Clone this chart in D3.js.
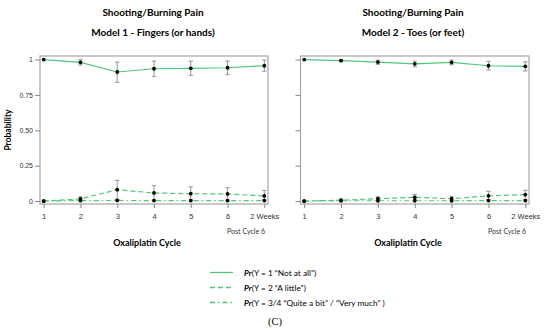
<!DOCTYPE html>
<html>
<head>
<meta charset="utf-8">
<script src="https://cdn.jsdelivr.net/npm/d3@7"></script>
<style>
  body { margin: 0; background: #fff; }
  svg { font-family: Lato, "Open Sans", sans-serif; }
  .tick text { fill: #333; }
</style>
</head>
<body>
<div class="chart"></div>
<script>
// categories and tick labels
const cycles = ['1', '2', '3', '4', '5', '6', '2 Weeks'];
const yTicks = [0, 0.25, 0.5, 0.75, 1];
const yTickLabels = ['0', '0.25', '0.50', '0.75', '1'];

// Model 1 - fingers
const m1Y1 = [1.0, 0.98, 0.912, 0.935, 0.938, 0.942, 0.956];
const m1Y1Lo = [1.0, 0.961, 0.839, 0.881, 0.888, 0.893, 0.917];
const m1Y1Hi = [1.0, 0.999, 0.982, 0.989, 0.989, 0.989, 0.996];
const m1Y2 = [0.0, 0.015, 0.08, 0.057, 0.052, 0.05, 0.036];
const m1Y2Lo = [0.0, 0.002, 0.015, 0.01, 0.006, 0.006, 0.003];
const m1Y2Hi = [0.0, 0.03, 0.146, 0.108, 0.1, 0.094, 0.075];
const m1Y3 = [0.0, 0.003, 0.004, 0.003, 0.003, 0.003, 0.003];
const m1Y3Lo = [0, 0, 0, 0, 0, 0, 0];
const m1Y3Hi = [0.0, 0.009, 0.012, 0.008, 0.008, 0.008, 0.008];

// Model 2 - toes
const m2Y1 = [1.0, 0.992, 0.982, 0.970, 0.980, 0.956, 0.952];
const m2Y1Lo = [1.0, 0.986, 0.966, 0.949, 0.963, 0.926, 0.919];
const m2Y1Hi = [1.0, 0.998, 0.996, 0.989, 0.996, 0.987, 0.984];
const m2Y2 = [0.0, 0.006, 0.016, 0.026, 0.016, 0.037, 0.045];
const m2Y2Lo = [0.0, 0.001, 0.004, 0.008, 0.004, 0.012, 0.016];
const m2Y2Hi = [0.0, 0.012, 0.03, 0.047, 0.033, 0.069, 0.076];
const m2Y3 = [0.0, 0.002, 0.002, 0.002, 0.002, 0.003, 0.003];
const m2Y3Lo = [0, 0, 0, 0, 0, 0, 0];
const m2Y3Hi = [0.0, 0.006, 0.008, 0.008, 0.008, 0.01, 0.01];

const legendLabels = ['(Y = 1 \u201cNot at all\u201d)', '(Y = 2 \u201cA little\u201d)',
                      '(Y = 3/4 \u201cQuite a bit\u201d / \u201cVery much\u201d )'];

const green = '#4fc87a';
const dashes = [null, '5,3', '5,3,1.5,3'];

const svg = d3.select('.chart').append('svg')
  .attr('width', 550).attr('height', 330);

function series(vals, lo, hi){
  return vals.map((v, i) => ({cat: cycles[i], value: v, lo: lo[i], hi: hi[i]}));
}

function panel(opts){
  const x = d3.scalePoint().domain(cycles).range([opts.left, opts.right]).padding(0.1);
  const y = d3.scaleLinear().domain([-0.021, 1.025]).range([204, 56]);
  const g = svg.append('g');

  g.append('text').attr('x', opts.titleX).attr('y', 16)
   .attr('text-anchor', 'middle').style('font-size', '10px').style('font-weight', 'bold')
   .text('Shooting/Burning Pain');
  g.append('text').attr('x', opts.titleX).attr('y', 36)
   .attr('text-anchor', 'middle').style('font-size', '10px').style('font-weight', 'bold')
   .text(opts.sub);

  g.append('rect').attr('x', opts.left).attr('y', 56)
   .attr('width', opts.right - opts.left).attr('height', 148)
   .style('fill', 'none').style('stroke', '#a6a6a6').style('stroke-width', 1.2);

  const yAxis = d3.axisLeft(y).tickValues(yTicks).tickSize(5).tickPadding(2)
    .tickFormat((d, i) => opts.labels ? yTickLabels[i] : '');
  g.append('g').attr('transform', `translate(${opts.left},0)`).call(yAxis)
   .call(a => a.select('.domain').remove())
   .call(a => a.selectAll('line').style('stroke', '#888'))
   .call(a => a.selectAll('text').style('font-size', '7px'));

  const xAxis = d3.axisBottom(x).tickSize(4).tickPadding(6);
  g.append('g').attr('transform', 'translate(0,204)').call(xAxis)
   .call(a => a.select('.domain').remove())
   .call(a => a.selectAll('line').style('stroke', '#888'))
   .call(a => a.selectAll('text').style('font-size', '7.5px'));

  g.append('text').attr('x', opts.right - 3).attr('y', 234)
   .attr('text-anchor', 'end').style('font-size', '7px').style('fill', '#333')
   .text('Post Cycle 6');
  g.append('text').attr('x', opts.axisX).attr('y', 246)
   .attr('text-anchor', 'middle').style('font-size', '9px').style('font-weight', 'bold')
   .text('Oxaliplatin Cycle');

  const line = d3.line().x(d => x(d.cat)).y(d => y(d.value));

  opts.data.forEach((s, k) => {
    const bars = s.filter(d => d.hi - d.lo > 0.004);
    const eb = g.append('g').style('stroke', '#8a8a8a').style('stroke-width', 0.9);
    eb.selectAll('.v').data(bars).join('line')
      .attr('x1', d => x(d.cat)).attr('x2', d => x(d.cat))
      .attr('y1', d => y(d.lo)).attr('y2', d => y(d.hi));
    eb.selectAll('.ct').data(bars).join('line')
      .attr('x1', d => x(d.cat) - 2.2).attr('x2', d => x(d.cat) + 2.2)
      .attr('y1', d => y(d.hi)).attr('y2', d => y(d.hi));
    eb.selectAll('.cb').data(bars.filter(d => k === 0)).join('line')
      .attr('x1', d => x(d.cat) - 2.2).attr('x2', d => x(d.cat) + 2.2)
      .attr('y1', d => y(d.lo)).attr('y2', d => y(d.lo));

    g.append('path').attr('d', line(s))
     .style('fill', 'none').style('stroke', green).style('stroke-width', 1.2)
     .style('stroke-dasharray', dashes[k]);

    g.append('g').selectAll('circle').data(s).join('circle')
     .attr('cx', d => x(d.cat)).attr('cy', d => y(d.value)).attr('r', 1.9)
     .style('fill', '#000');
  });
}

panel({
  left: 40, right: 268, titleX: 153, axisX: 147, sub: 'Model 1 - Fingers (or hands)', labels: true,
  data: [series(m1Y1, m1Y1Lo, m1Y1Hi), series(m1Y2, m1Y2Lo, m1Y2Hi), series(m1Y3, m1Y3Lo, m1Y3Hi)]
});
panel({
  left: 300.5, right: 529, titleX: 413, axisX: 408, sub: 'Model 2 - Toes (or feet)', labels: false,
  data: [series(m2Y1, m2Y1Lo, m2Y1Hi), series(m2Y2, m2Y2Lo, m2Y2Hi), series(m2Y3, m2Y3Lo, m2Y3Hi)]
});

svg.append('text').attr('transform', 'translate(11,130) rotate(-90)')
   .attr('text-anchor', 'middle').style('font-size', '8.5px').style('font-weight', 'bold')
   .text('Probability');

// legend
const legend = svg.append('g');
legendLabels.forEach((t, i) => {
  const ly = 272.5 + i * 15;
  legend.append('line').attr('x1', 210).attr('x2', 233).attr('y1', ly).attr('y2', ly)
        .style('stroke', green).style('stroke-width', 1.3).style('stroke-dasharray', dashes[i]);
  const txt = legend.append('text').attr('x', 244).attr('y', ly + 3).style('font-size', '8.3px');
  txt.append('tspan').text('Pr').style('font-weight', 'bold').style('font-style', 'italic');
  txt.append('tspan').text(t);
});

svg.append('text').attr('x', 275).attr('y', 325).attr('text-anchor', 'middle')
   .style('font-family', '"Liberation Serif", "DejaVu Serif", serif').style('font-size', '10.5px')
   .text('(C)');
</script>
</body>
</html>
